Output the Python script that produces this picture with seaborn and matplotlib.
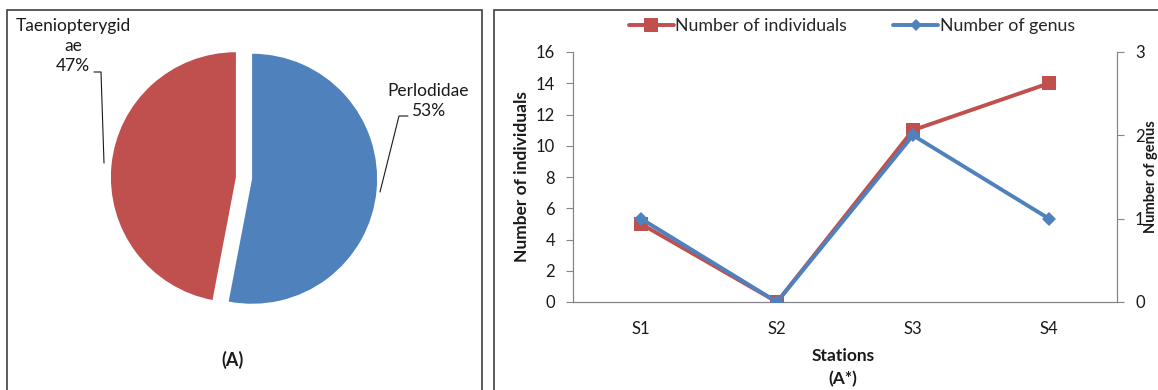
import matplotlib
matplotlib.use("Agg")
import matplotlib.pyplot as plt
from matplotlib.patches import Rectangle
from matplotlib.lines import Line2D
import seaborn as sns
import pandas as pd

# ---- data ----
families = ["Perlodidae", "Taeniopterygidae"]
family_pct = [53, 47]
family_labels = ["Perlodidae\n53%", "Taeniopterygid\nae\n47%"]
stations = ["S1", "S2", "S3", "S4"]
n_individuals = [5, 0, 11, 14]
n_genus = [1, 0, 2, 1]
left_ticks = [0, 2, 4, 6, 8, 10, 12, 14, 16]
right_ticks = [0, 1, 2, 3]

RED = "#C0504D"
BLUE = "#4F81BD"
GRID = "#868686"
TXT = "#1a1a1a"

sns.set_theme(style="white")
plt.rcParams["font.family"] = ["Lato", "DejaVu Sans"]
FS = 12.5
TFS = 12

W, H = 1158, 390
fig = plt.figure(figsize=(W / 100, H / 100), dpi=100)

def fx(x):
    return x / W

def fy(y):
    return 1 - y / H

# panel borders
fig.patches.append(Rectangle((fx(7), fy(392)), fx(475), fy(10) - fy(392),
                             transform=fig.transFigure, fill=False,
                             edgecolor="#404040", linewidth=1.2))
fig.patches.append(Rectangle((fx(494), fy(392)), fx(670), fy(10) - fy(392),
                             transform=fig.transFigure, fill=False,
                             edgecolor="#404040", linewidth=1.2))

# ---- pie ----
axp = fig.add_axes([fx(94), fy(328), fx(300), fy(28) - fy(328)])
axp.pie(family_pct, colors=[BLUE, RED], startangle=90, counterclock=False,
        explode=[0.065, 0.065], wedgeprops=dict(linewidth=0))
axp.set_xlim(-1.2, 1.2)
axp.set_ylim(-1.2, 1.2)
axp.set_aspect("equal")
axp.axis("off")

# labels with leader lines (figure coordinates)
fig.text(fx(428), fy(101), family_labels[0], ha="center", va="center",
         fontsize=FS, linespacing=1.3, color=TXT)
fig.lines.append(Line2D([fx(380), fx(399), fx(408)], [fy(192), fy(116), fy(116)],
                        transform=fig.transFigure, color=TXT, linewidth=0.8))
fig.text(fx(73), fy(46), family_labels[1], ha="center", va="center",
         fontsize=FS, linespacing=1.3, color=TXT)
fig.lines.append(Line2D([fx(94), fx(101), fx(104)], [fy(72), fy(72), fy(163)],
                        transform=fig.transFigure, color=TXT, linewidth=0.8))
fig.text(fx(233), fy(360), "(A)", ha="center", va="center", fontsize=13,
         fontweight="bold", color=TXT)

# ---- line chart ----
df = pd.DataFrame({"Station": stations, "Individuals": n_individuals,
                   "Genus": n_genus, "pos": range(len(stations))})
ax = fig.add_axes([fx(573), fy(302), fx(1117) - fx(573), fy(52) - fy(302)])
ax2 = ax.twinx()
sns.lineplot(data=df, x="pos", y="Individuals", ax=ax, color=RED, linewidth=2.8,
             marker="s", markersize=9.5, markeredgewidth=0, sort=False, zorder=3)
sns.lineplot(data=df, x="pos", y="Genus", ax=ax2, color=BLUE, linewidth=2.8,
             marker="D", markersize=7.5, markeredgewidth=0, sort=False, zorder=4)

ax.set_xlim(-0.5, len(stations) - 0.5)
ax.set_ylim(0, 16)
ax2.set_ylim(0, 3)
ax.set_yticks(left_ticks)
ax2.set_yticks(right_ticks)
ax.set_xticks(range(len(stations)))
ax.set_xticklabels(stations)
ax.set_xticks([i - 0.5 for i in range(len(stations) + 1)], minor=True)
ax.tick_params(axis="x", which="major", length=0, pad=14, labelsize=TFS, labelcolor=TXT)
ax.tick_params(axis="x", which="minor", length=5, direction="out", color=GRID, width=0.8)
ax.tick_params(axis="y", length=5, direction="out", color=GRID, width=0.8, labelsize=TFS,
               labelcolor=TXT, pad=8)
ax2.tick_params(axis="y", length=5, direction="out", color=GRID, width=0.8, labelsize=TFS,
                labelcolor=TXT, pad=8)
ax.set_xlabel("")
ax.set_ylabel("")
ax2.set_ylabel("")
for a in (ax, ax2):
    a.spines["top"].set_visible(False)
    for s in ("left", "right", "bottom"):
        a.spines[s].set_color(GRID)
        a.spines[s].set_linewidth(0.9)
ax.spines["right"].set_visible(False)
ax2.spines["left"].set_visible(False)
ax2.spines["bottom"].set_visible(False)
ax.patch.set_visible(False)

fig.text(fx(522), fy(177), "Number of individuals", rotation=90, ha="center",
         va="center", fontsize=FS, fontweight="bold", color=TXT)
fig.text(fx(1151), fy(177), "Number of genus", rotation=90, ha="center",
         va="center", fontsize=10.5, fontweight="bold", color=TXT)
fig.text(fx(843), fy(356), "Stations", ha="center", va="center", fontsize=FS,
         fontweight="bold", color=TXT)
fig.text(fx(843), fy(379), "(A*)", ha="center", va="center", fontsize=FS,
         fontweight="bold", color=TXT)

handles = [Line2D([], [], color=RED, linewidth=2.8, marker="s", markersize=9.5, markeredgewidth=0),
           Line2D([], [], color=BLUE, linewidth=2.8, marker="D", markersize=6, markeredgewidth=0)]
fig.legend(handles, ["Number of individuals", "Number of genus"], ncol=2,
           loc="center", bbox_to_anchor=(fx(852), fy(26)), frameon=False,
           fontsize=12.8, handlelength=2.5, handletextpad=0.1, columnspacing=2.6,
           borderaxespad=0)

fig.savefig("out.png", dpi=100)
